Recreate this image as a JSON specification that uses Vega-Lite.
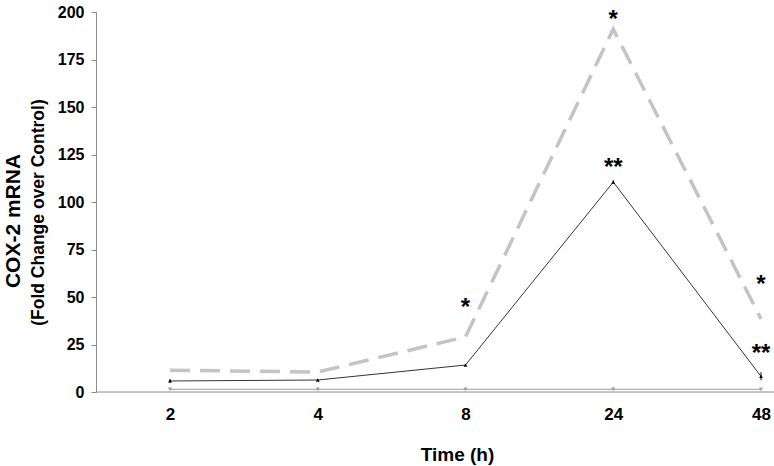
{
  "$schema": "https://vega.github.io/schema/vega-lite/v6.json",
  "width": 678,
  "height": 380,
  "autosize": {"type": "none"},
  "padding": {"left": 96, "top": 12, "right": 0, "bottom": 74},
  "background": "white",
  "config": {
    "view": {"stroke": null},
    "font": "Liberation Sans"
  },
  "title": {
    "text": "COX-2 mRNA",
    "orient": "left",
    "anchor": "middle",
    "font": "Liberation Sans",
    "fontWeight": "bold",
    "fontSize": 21,
    "color": "#000",
    "offset": 5,
    "dx": -19
  },
  "datasets": {
    "series": [
      {"time": "2", "group": "Treatment A", "value": 11.5},
      {"time": "4", "group": "Treatment A", "value": 10.5},
      {"time": "8", "group": "Treatment A", "value": 29},
      {"time": "24", "group": "Treatment A", "value": 191},
      {"time": "48", "group": "Treatment A", "value": 38.5},
      {"time": "2", "group": "Treatment B", "value": 5.8, "lo": 4.8, "hi": 6.8},
      {"time": "4", "group": "Treatment B", "value": 6.3, "lo": 5.8, "hi": 6.8},
      {"time": "8", "group": "Treatment B", "value": 14.2, "lo": 13.7, "hi": 14.7},
      {"time": "24", "group": "Treatment B", "value": 110.5, "lo": 109.5, "hi": 111.5},
      {"time": "48", "group": "Treatment B", "value": 8.2, "lo": 6.2, "hi": 10.4},
      {"time": "2", "group": "Control", "value": 1.4},
      {"time": "4", "group": "Control", "value": 1.4},
      {"time": "8", "group": "Control", "value": 1.4},
      {"time": "24", "group": "Control", "value": 1.4},
      {"time": "48", "group": "Control", "value": 1.4}
    ],
    "stars": [
      {"time": "8", "label": "*", "y": 46.8},
      {"time": "24", "label": "*", "y": 198.4},
      {"time": "48", "label": "*", "y": 59},
      {"time": "24", "label": "**", "y": 120.5},
      {"time": "48", "label": "**", "y": 22.6}
    ],
    "zero": [{"v": 0}]
  },
  "layer": [
    {
      "data": {"name": "zero"},
      "mark": {"type": "rule", "color": "#8c8c8c", "strokeWidth": 1},
      "encoding": {
        "y": {
          "field": "v", "type": "quantitative",
          "scale": {"domain": [0, 200], "nice": false},
          "axis": {
            "values": [0, 12.5, 25, 37.5, 50, 62.5, 75, 87.5, 100, 112.5, 125, 137.5, 150, 162.5, 175, 187.5, 200],
            "labelExpr": "datum.value % 25 == 0 ? datum.label : ''",
            "grid": false,
            "domainColor": "#8c8c8c",
            "tickColor": "#8c8c8c",
            "tickSize": 5,
            "labelFont": "Liberation Sans",
            "labelFontWeight": "bold",
            "labelFontSize": 16,
            "labelColor": "#000",
            "labelPadding": 7,
            "title": "(Fold Change over Control)",
            "titleFont": "Liberation Sans",
            "titleFontWeight": "bold",
            "titleFontSize": 17.5,
            "titleColor": "#000",
            "titleX": -58,
            "titleY": 200,
            "titleBaseline": "middle"
          }
        }
      }
    },
    {
      "data": {"name": "series"},
      "transform": [{"filter": "datum.group == 'Control'"}],
      "mark": {"type": "line", "color": "#b0b0b0", "strokeWidth": 1.2, "point": {"shape": "triangle-down", "size": 18, "color": "#a0a0a0", "filled": true}},
      "encoding": {
        "x": {
          "field": "time", "type": "ordinal",
          "scale": {"type": "point", "domain": ["2", "4", "8", "24", "48"], "range": [74, 665], "padding": 0},
          "axis": {
            "domain": false,
            "ticks": false,
            "labelAngle": 0,
            "labelFont": "Liberation Sans",
            "labelFontWeight": "bold",
            "labelFontSize": 17,
            "labelColor": "#000",
            "labelPadding": 14,
            "title": "Time (h)",
            "titleFont": "Liberation Sans",
            "titleFontWeight": "bold",
            "titleFontSize": 19,
            "titleColor": "#000",
            "titleX": 361,
            "titleY": 62,
            "titleBaseline": "middle"
          }
        },
        "y": {"field": "value", "type": "quantitative"}
      }
    },
    {
      "data": {"name": "series"},
      "transform": [{"filter": "datum.group == 'Treatment A'"}],
      "mark": {"type": "line", "color": "#c4c4c4", "strokeWidth": 3.5, "strokeDash": [20, 10]},
      "encoding": {
        "x": {"field": "time", "type": "ordinal"},
        "y": {"field": "value", "type": "quantitative"}
      }
    },
    {
      "data": {"name": "series"},
      "transform": [{"filter": "datum.group == 'Treatment B'"}],
      "mark": {"type": "rule", "color": "#000", "strokeWidth": 1},
      "encoding": {
        "x": {"field": "time", "type": "ordinal"},
        "y": {"field": "lo", "type": "quantitative"},
        "y2": {"field": "hi"}
      }
    },
    {
      "data": {"name": "series"},
      "transform": [{"filter": "datum.group == 'Treatment B'"}],
      "mark": {"type": "line", "color": "#000", "strokeWidth": 0.8, "point": {"shape": "triangle-up", "size": 14, "color": "#000", "filled": true}},
      "encoding": {
        "x": {"field": "time", "type": "ordinal"},
        "y": {"field": "value", "type": "quantitative"}
      }
    },
    {
      "data": {"name": "stars"},
      "mark": {"type": "text", "font": "Liberation Sans", "fontWeight": "bold", "fontSize": 24, "color": "#000", "baseline": "middle", "dy": 5},
      "encoding": {
        "x": {"field": "time", "type": "ordinal"},
        "y": {"field": "y", "type": "quantitative"},
        "text": {"field": "label"}
      }
    }
  ]
}
